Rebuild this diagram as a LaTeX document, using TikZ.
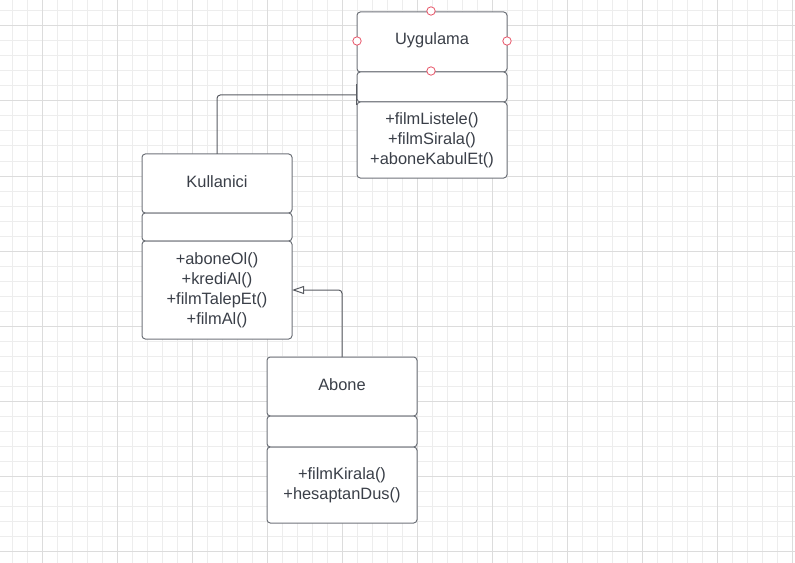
\documentclass[tikz,border=0pt]{standalone}
\usepackage{fontspec}
\setmainfont{Liberation Sans}
\usepackage{tikz}
\usetikzlibrary{arrows.meta,calc}
\definecolor{gridminor}{HTML}{EDEDED}
\definecolor{gridmajor}{HTML}{DCDCDC}
\definecolor{boxline}{HTML}{6F737A}
\definecolor{txt}{HTML}{3A3F48}
\definecolor{handlered}{HTML}{E8576A}
\tikzset{
   classhead/.style={draw=boxline, line width=0.75pt, rounded corners=2.5pt, fill=white,
                     minimum width=112.5pt, inner sep=0pt, outer sep=0pt,
                     text=txt, font=\fontsize{12.3pt}{15pt}\selectfont},
   classattr/.style={classhead},
   classmeth/.style={classhead, align=center},
   headlabel/.style={text=txt, font=\fontsize{12.3pt}{15pt}\selectfont, inner sep=0pt},
   handle/.style={circle, draw=handlered, fill=white, line width=0.6pt,
                  minimum size=6.3pt, inner sep=0pt},
   conn/.style={draw=boxline!80!black, line width=0.75pt, rounded corners=2.5pt}
}

\begin{document}
\begin{tikzpicture}[x=0.75pt,y=-0.75pt]
\useasboundingbox (0,0) rectangle (795,563);

% grid
\foreach \x in {12,27,...,792} \draw[gridminor, line width=0.75pt] (\x,0) -- (\x,563);
\foreach \y in {11,26,...,561} \draw[gridminor, line width=0.75pt] (0,\y) -- (795,\y);
\foreach \x in {42,117,...,792} \draw[gridmajor, line width=0.75pt] (\x,0) -- (\x,563);
\foreach \y in {26,101,...,561} \draw[gridmajor, line width=0.75pt] (0,\y) -- (795,\y);

% Uygulama
\node[classhead, minimum height=45pt] (uyghead) at (432,42) {};
\node[headlabel] (uygname) at (432,40.5) {Uygulama};
\node[classattr, minimum height=22.5pt] (uygattr) at (432,87) {};
\node[classmeth, minimum height=57pt] (uygmeth) at (432,140)
  {+filmListele()\\+filmSirala()\\+aboneKabulEt()};

% Kullanici
\node[classhead, minimum height=44.25pt] (kulhead) at (217,183.5) {};
\node[headlabel] (kulname) at (217,182) {Kullanici};
\node[classattr, minimum height=21pt] (kulattr) at (217,227) {};
\node[classmeth, minimum height=73.5pt] (kulmeth) at (217,290)
  {+aboneOl()\\+krediAl()\\+filmTalepEt()\\+filmAl()};

% Abone
\node[classhead, minimum height=44.25pt] (abohead) at (342,386.5) {};
\node[headlabel] (aboname) at (342,384.5) {Abone};
\node[classattr, minimum height=23.25pt] (aboattr) at (342,431.5) {};
\node[classmeth, minimum height=57pt] (abometh) at (342,485)
  {+filmKirala()\\+hesaptanDus()};

% connectors
\coordinate (uygin) at (357,95);
\draw[conn, -{Bar[width=15.75pt, line width=1pt]}] (kulhead.north) |- (uygin);
\draw[conn, -{Triangle[open, length=9pt, width=6pt, fill=white]}] (abohead.north) |- (kulmeth.east);

% selection handles
\node[handle] (h1) at (431,11) {};
\node[handle] (h2) at (357,41) {};
\node[handle] (h3) at (507,41) {};
\node[handle] (h4) at (431,71) {};

\end{tikzpicture}
\end{document}
